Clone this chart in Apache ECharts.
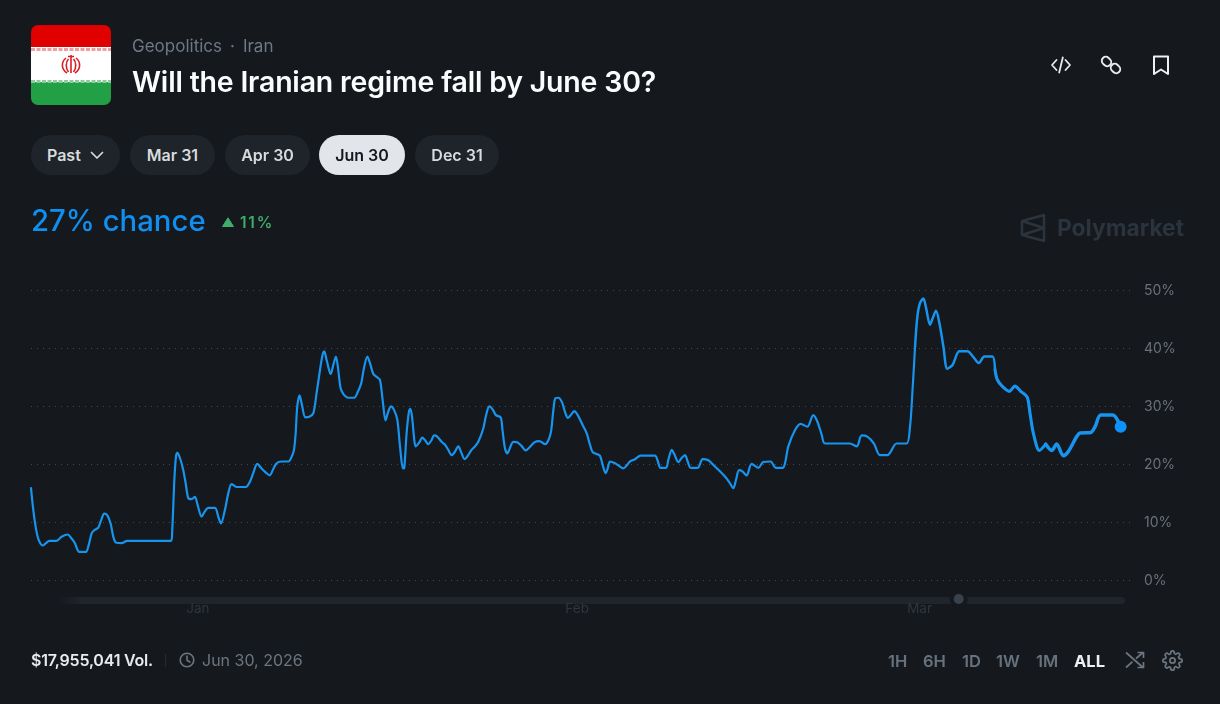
<!DOCTYPE html>
<html>
<head>
<meta charset="UTF-8">
<title>Will the Iranian regime fall by June 30?</title>
<script src="https://cdn.jsdelivr.net/npm/echarts@6/dist/echarts.min.js"></script>
<style>
	html, body { margin: 0; padding: 0; background: #15181d; }
	body { width: 1220px; height: 704px; position: relative; overflow: hidden; font-family: Inter, "Open Sans", sans-serif; }
	#chart { position: absolute; left: 0; top: 0; width: 1220px; height: 704px; }
	.abs { position: absolute; white-space: nowrap; }
	.pill { position: absolute; top: 135px; height: 40px; line-height: 40px; border-radius: 20px; background: #1f242a; color: #d8dbde; font-size: 16px; font-weight: 600; text-align: center; }
	.pill.on { background: #e2e6eb; color: #15181d; }
	.range { position: absolute; top: 650px; line-height: 22px; font-size: 16.5px; font-weight: 600; color: #67727d; }
	svg { position: absolute; overflow: visible; }
</style>
</head>
<body>
<div id="chart"></div>

<!-- flag -->
<svg style="left:31px;top:25px" width="80" height="80" viewBox="0 0 80 80">
	<defs><clipPath id="flagClip"><rect width="80" height="80" rx="7"/></clipPath></defs>
	<g clip-path="url(#flagClip)">
		<rect width="80" height="23" fill="#e00000"/>
		<rect y="22" width="80" height="36" fill="#ffffff"/>
		<rect y="57" width="80" height="23" fill="#22a045"/>
		<path d="M0 24.500H80" stroke="#e8a0a0" stroke-width="3" stroke-dasharray="4 1.500"/>
		<path d="M0 56.500H80" stroke="#8ccb9c" stroke-width="3" stroke-dasharray="4 1.500"/>
	</g>
	<g fill="none" stroke="#d81f26" stroke-width="1.600">
		<path d="M40 30V48M37 31.500H43"/>
		<path d="M37.500 34C34.500 37 34.500 43 37.500 47M42.500 34C45.500 37 45.500 43 42.500 47"/>
		<path d="M35 33C30 37 30 44 36 48M45 33C50 37 50 44 44 48"/>
	</g>
</svg>

<div class="abs" style="left:132px;top:36px;font-size:17px;line-height:20px;color:#6f7985">Geopolitics<span style="margin:0 8px">·</span>Iran</div>
<div class="abs" style="left:132px;top:64px;font-size:28.500px;line-height:36px;font-weight:600;color:#fbfcfd;letter-spacing:-0.2px">Will the Iranian regime fall by June 30?</div>

<!-- header icons -->
<svg style="left:1050px;top:54px" width="22" height="22" viewBox="0 0 22 22" fill="none" stroke="#e8eaec" stroke-width="1.8" stroke-linecap="round" stroke-linejoin="round">
	<path d="M6.5 6 2 11l4.5 5M15.500 6 20 11l-4.500 5M12.800 3.500 9.200 18.500"/>
</svg>
<svg style="left:1100px;top:54px" width="22" height="22" viewBox="0 0 22 22" fill="none" stroke="#e8eaec" stroke-width="1.9" stroke-linecap="round">
	<rect x="1.500" y="3.500" width="10" height="8" rx="4" transform="rotate(45 6.500 7.500)"/>
	<rect x="10.500" y="10.500" width="10" height="8" rx="4" transform="rotate(45 15.500 14.500)"/>
</svg>
<svg style="left:1152px;top:55px" width="18" height="21" viewBox="0 0 18 21" fill="none" stroke="#eef0f1" stroke-width="2" stroke-linejoin="round">
	<path d="M2 1.500H16V19L9 14.500 2 19Z"/>
</svg>

<!-- date pills -->
<div class="pill" style="left:31px;width:89px;text-align:left"><span style="margin-left:16px">Past</span>
	<svg style="left:59px;top:16px" width="14" height="9" viewBox="0 0 14 9" fill="none" stroke="#d8dbde" stroke-width="1.700" stroke-linecap="round" stroke-linejoin="round"><path d="M1.500 1.500 7 7l5.500-5.500"/></svg>
</div>
<div class="pill" style="left:130px;width:85px">Mar 31</div>
<div class="pill" style="left:225px;width:85px">Apr 30</div>
<div class="pill on" style="left:319px;width:86px">Jun 30</div>
<div class="pill" style="left:415px;width:84px">Dec 31</div>

<!-- headline number -->
<div class="abs" style="left:31px;top:202px;font-size:29.300px;line-height:38px;font-weight:500;color:#0f8ff0">27% chance</div>
<svg style="left:222px;top:217px" width="12" height="10" viewBox="0 0 12 10"><path d="M6 .8 11.500 9.500H.5Z" fill="#3dae6b" stroke="#3dae6b" stroke-linejoin="round"/></svg>
<div class="abs" style="left:240px;top:213px;font-size:15.500px;line-height:20px;font-weight:600;letter-spacing:1.800px;color:#3dae6b">11%</div>

<!-- watermark -->
<svg style="left:1020px;top:213px" width="26" height="30" viewBox="0 0 26 30" fill="none" stroke="#2b333c" stroke-width="2.600" stroke-linejoin="round">
	<path d="M24 2V28L2 22V8ZM2 8 24 15 2 22"/>
</svg>
<div class="abs" style="left:1057px;top:212px;font-size:22.800px;line-height:32px;font-weight:700;color:#2b333c">Polymarket</div>

<!-- footer -->
<div class="abs" style="left:31px;top:649px;font-size:16px;line-height:22px;font-weight:600;color:#e8ebee;letter-spacing:-0.2px">$17,955,041 Vol.</div>
<div class="abs" style="left:165px;top:654px;width:1px;height:13px;background:#262b31"></div>
<svg style="left:179px;top:652px" width="16" height="16" viewBox="0 0 16 16" fill="none" stroke="#6b7680" stroke-width="1.600" stroke-linecap="round" stroke-linejoin="round"><circle cx="8" cy="8" r="6.800"/><path d="M8 4V8.300L10.800 10"/></svg>
<div class="abs" style="left:202px;top:649px;font-size:16px;line-height:22px;color:#6b7680">Jun 30, 2026</div>

<div class="range" style="left:888px">1H</div>
<div class="range" style="left:923px">6H</div>
<div class="range" style="left:962px">1D</div>
<div class="range" style="left:996px">1W</div>
<div class="range" style="left:1036px">1M</div>
<div class="range" style="left:1074px;color:#eef0f2;font-weight:700">ALL</div>
<svg style="left:1125px;top:651px" width="20" height="18" viewBox="0 0 20 18" fill="none" stroke="#6b7680" stroke-width="1.700"><path d="M1 1.500 18 16.500M1 16.500 7.500 10.700M11 7.500 18 1.500M12.500 1.500H18.500V7M12.500 16.500H18.500V11"/></svg>
<svg style="left:1162px;top:650px" width="21" height="21" viewBox="0 0 24 24" fill="none" stroke="#6b7680" stroke-width="2" stroke-linecap="round" stroke-linejoin="round"><circle cx="12" cy="12" r="3"/><path d="M19.400 15a1.650 1.650 0 0 0 .33 1.820l.06.06a2 2 0 1 1-2.830 2.830l-.06-.06a1.650 1.650 0 0 0-2.900 1.170V21a2 2 0 1 1-4 0v-.09a1.650 1.650 0 0 0-2.820-1.120l-.06.06a2 2 0 1 1-2.830-2.830l.06-.06A1.650 1.650 0 0 0 3.090 14H3a2 2 0 1 1 0-4h.09a1.650 1.650 0 0 0 1.120-2.820l-.06-.06a2 2 0 1 1 2.830-2.830l.06.06A1.650 1.650 0 0 0 10 3.090V3a2 2 0 1 1 4 0v.09a1.650 1.650 0 0 0 2.820 1.120l.06-.06a2 2 0 1 1 2.830 2.830l-.06.06A1.650 1.650 0 0 0 20.910 10H21a2 2 0 1 1 0 4h-.09a1.650 1.650 0 0 0-1.510 1z"/></svg>

<script type="text/javascript">
	// days counted from Jan 1, 2026; chance in percent
	var days = [-13.65,-13.46,-13.25,-13.03,-12.7,-12.43,-12.16,-11.6,-11.15,-10.66,-10.33,-10.06,-9.7,-9.16,-8.97,-8.69,-8.5,-8.15,-7.93,-7.66,-7.41,-7.14,-6.92,-6.7,-6.24,-5.78,-2.2,-2.1,-1.93,-1.8,-1.69,-1.47,-1.2,-1.0,-0.79,-0.52,-0.25,-0.03,0.3,0.57,0.84,1.39,1.66,1.88,2.2,2.48,2.75,3.16,3.92,4.25,4.52,4.85,5.2,5.6,5.86,6.16,6.43,6.84,7.39,7.66,7.85,7.99,8.12,8.31,8.5,8.78,9.1,9.43,9.7,9.98,10.19,10.33,10.52,10.85,11.07,11.28,11.47,11.67,11.94,12.29,12.78,13.03,13.35,13.57,13.85,14.06,14.34,14.66,14.88,15.1,15.34,15.56,15.78,16.03,16.3,16.52,16.76,16.87,17.06,17.25,17.36,17.5,17.66,17.8,18.1,18.34,18.56,18.83,19.1,19.31,19.56,19.92,20.2,20.47,20.74,20.96,21.29,21.5,21.8,22.1,22.37,22.65,22.92,23.33,23.54,23.82,24.09,24.36,24.75,24.9,25.1,25.3,25.5,25.78,26.1,26.45,26.8,27.14,27.5,27.9,28.4,28.66,28.87,29.06,29.22,29.47,29.77,30.0,30.25,30.55,30.77,31.05,31.45,31.78,32.05,32.27,32.6,32.87,33.09,33.33,33.5,33.69,34.1,34.45,34.78,35.05,35.33,35.74,36.2,37.37,37.56,37.83,38.27,38.46,38.74,38.92,39.28,39.55,39.82,40.04,40.29,40.86,41.27,41.73,42.14,42.68,43.09,43.45,43.77,43.99,44.24,44.51,44.86,45.27,45.82,46.22,46.82,47.26,47.81,48.0,48.27,48.81,49.28,49.82,50.31,50.64,51.0,51.27,53.31,53.86,54.27,54.73,55.27,55.76,56.36,57.13,57.94,58.22,58.41,58.63,58.82,59.03,59.31,59.53,59.85,60.07,60.34,60.62,60.95,61.27,61.71,62.25,62.91,63.4,63.84,64.3,64.95,65.17,65.36,65.79,66.34,66.8,67.27,67.8,68.03,68.3,68.8,69.31,69.8,70.21,70.75,71.16,71.85,72.12,72.99,73.35,73.81,74.8,75.44];
	var chance = [15.9,12.1,9.0,7.0,6.0,6.4,6.8,6.8,7.5,7.9,7.2,6.4,4.9,4.9,5.8,8.1,8.6,9.1,10.3,11.5,11.2,9.8,7.5,6.5,6.4,6.8,6.8,8.7,17.3,21.3,22.0,21.1,19.0,16.7,14.2,14.0,14.4,13.0,11.0,11.9,12.5,12.5,11.0,9.8,12.1,15.0,16.6,16.1,16.1,17.0,18.5,20.1,19.3,18.5,18.1,19.2,20.2,20.5,20.5,21.3,22.5,25.4,30.0,31.9,30.3,28.1,28.2,28.8,32.3,36.3,38.9,39.5,38.0,35.6,37.2,38.6,36.3,33.1,32.0,31.5,31.5,32.3,34.0,36.6,38.6,37.5,35.6,35.0,34.6,31.1,27.6,29.1,30.0,29.4,27.7,23.1,19.3,19.4,25.4,29.1,29.6,28.3,24.8,23.1,23.8,24.6,24.2,23.5,24.2,25.0,24.8,23.9,23.4,22.5,21.6,22.0,23.1,22.2,20.9,21.6,22.5,23.1,23.9,26.2,28.3,30.0,29.5,28.5,28.1,25.9,22.8,21.9,22.8,23.9,23.8,23.2,22.4,23.0,23.8,24.0,23.5,24.2,25.7,29.4,31.4,31.5,30.7,29.1,28.0,28.7,29.2,28.5,26.8,25.4,23.4,22.1,21.8,21.5,19.9,18.5,19.3,20.5,20.2,19.7,19.3,19.8,20.5,20.9,21.5,21.5,20.8,19.4,19.4,20.8,22.5,21.9,20.4,21.1,21.6,20.5,19.4,19.4,20.9,20.7,19.9,18.8,17.9,16.9,15.9,17.3,19.0,18.8,18.1,20.1,19.4,20.4,20.5,19.4,19.4,20.2,23.1,25.9,27.0,26.5,28.5,27.4,25.1,23.6,23.6,23.1,25.0,24.8,23.6,21.6,21.6,23.6,23.6,26.5,32.3,40.3,45.5,47.8,48.6,47.0,44.1,45.2,46.5,44.4,40.3,36.5,37.2,39.5,39.5,38.5,37.5,38.6,38.6,36.3,34.6,33.4,32.6,33.5,32.6,31.6,28.8,25.4,22.4,23.5,22.4,23.5,21.5,22.2,24.8,25.4,25.5,26.5,28.5,28.5,26.5];
	var monthDays = [0, 31, 59];
	var monthNames = ['Jan', 'Feb', 'Mar'];
	var yTicks = [0, 10, 20, 30, 40, 50];

	var blue = '#1794ee';
	var points = days.map(function (d, i) { return [d, chance[i]]; });

	// the line gets heavier towards the end, so it is drawn in pieces
	function piece(from, to, width) {
		var part = points.filter(function (p) { return p[0] >= from && p[0] <= to; });
		return {
			type: 'line',
			data: part,
			showSymbol: false,
			smooth: 0.3,
			silent: true,
			lineStyle: { color: blue, width: width, cap: 'round', join: 'round' }
		};
	}

	var chart = echarts.init(document.getElementById('chart'));
	var option = {
		backgroundColor: 'transparent',
		animation: false,
		grid: { left: 31, right: 87, top: 290.5, bottom: 123.7 },
		xAxis: {
			type: 'value',
			min: days[0],
			max: 76.45,
			splitLine: { show: false },
			axisLine: { show: false },
			axisTick: { show: false },
			axisLabel: {
				customValues: monthDays,
				margin: 22,
				color: '#2f363d',
				fontFamily: 'Inter',
				fontSize: 13.5,
				formatter: function (v) { return monthNames[monthDays.indexOf(v)]; }
			}
		},
		yAxis: {
			type: 'value',
			position: 'right',
			min: yTicks[0],
			max: yTicks[yTicks.length - 1],
			interval: 10,
			axisLine: { show: false },
			axisTick: { show: false },
			splitLine: { lineStyle: { color: '#454a50', width: 1, type: [1, 5] } },
			axisLabel: {
				margin: 11,
				color: '#6b7178',
				fontFamily: 'Inter',
				fontSize: 14,
				formatter: '{value}%'
			}
		},
		graphic: [
			// time slider under the plot
			{ type: 'rect', z: 0, shape: { x: 55, y: 597, width: 1070, height: 7, r: 3.5 },
				style: { fill: new echarts.graphic.LinearGradient(0, 0, 1, 0, [
					{ offset: 0, color: 'rgba(32,37,43,0)' },
					{ offset: 0.025, color: '#20252b' },
					{ offset: 1, color: '#20252b' }
				]) } },
			{ type: 'circle', z: 1, shape: { cx: 958.7, cy: 599, r: 9 }, style: { fill: '#15181d' } },
			{ type: 'circle', z: 2, shape: { cx: 958.7, cy: 599, r: 5 }, style: { fill: '#37424d' } }
		],
		series: [
			piece(-99, 58.63, 2.2),
			piece(58.63, 65.17, 2.5),
			piece(65.17, 69.31, 3.1),
			piece(69.31, 99, 3.5),
			{
				type: 'scatter',
				data: [points[points.length - 1]],
				symbolSize: 12,
				silent: true,
				z: 5,
				itemStyle: { color: '#0d92fa', opacity: 1 }
			}
		]
	};
	chart.setOption(option);
</script>
</body>
</html>
